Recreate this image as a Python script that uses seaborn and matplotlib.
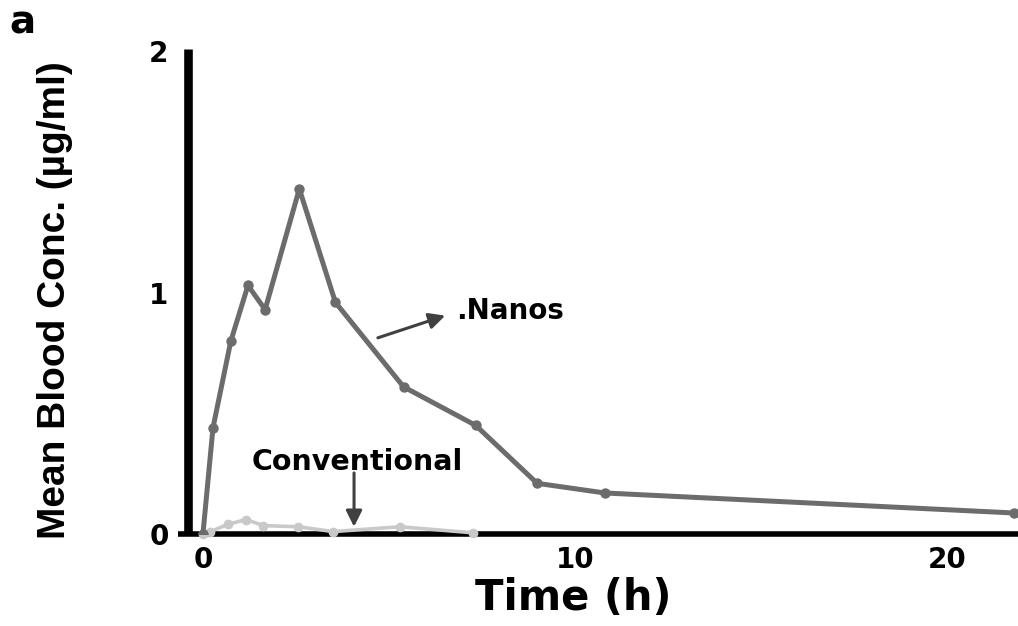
import matplotlib
matplotlib.use("Agg")
import matplotlib.pyplot as plt
import seaborn as sns
import pandas as pd

# ---- data ----
time_nanos = [0, 0.27, 0.75, 1.21, 1.67, 2.59, 3.56, 5.39, 7.33, 8.98, 10.8, 21.8]
conc_nanos = [0, 0.44, 0.80, 1.03, 0.93, 1.43, 0.96, 0.61, 0.45, 0.21, 0.17, 0.087]
time_conv = [0, 0.20, 0.67, 1.16, 1.62, 2.56, 3.50, 5.30, 7.25]
conc_conv = [0, 0.01, 0.04, 0.06, 0.035, 0.03, 0.01, 0.03, 0.005]
x_ticks = [0, 10, 20]
y_ticks = [0, 1, 2]
x_label = "Time (h)"
y_label = "Mean Blood Conc. (µg/ml)"

sns.set_theme(style="white")
plt.rcParams['font.family'] = ['DejaVu Sans']
plt.rcParams['text.color'] = 'black'
plt.rcParams['xtick.color'] = 'black'
plt.rcParams['ytick.color'] = 'black'

fig = plt.figure(figsize=(10.18, 6.26), dpi=100)
W, H = 1018, 626
ax = fig.add_axes([178 / W, 1 - 534 / H, (1018 - 178) / W, (534 - 49) / H])

df_n = pd.DataFrame({"t": time_nanos, "c": conc_nanos})
df_c = pd.DataFrame({"t": time_conv, "c": conc_conv})

sns.lineplot(data=df_c, x="t", y="c", ax=ax, color="#c9c9c9", lw=2.6,
             marker="o", markersize=7, markeredgewidth=0, estimator=None,
             sort=False, clip_on=False, zorder=3)
sns.lineplot(data=df_n, x="t", y="c", ax=ax, color="#6c6c6c", lw=3.6,
             marker="o", markersize=7.5, markeredgewidth=0, estimator=None,
             sort=False, clip_on=True, zorder=4)

ax.set_xlim(-0.67, 21.9)
ax.set_ylim(0, 2.01)
ax.spines['left'].set_position(('data', -0.4))
for s in ['top', 'right']:
    ax.spines[s].set_visible(False)
ax.spines['left'].set_linewidth(6.2)
ax.spines['left'].set_color('black')
ax.spines['left'].set_capstyle('butt')
ax.spines['bottom'].set_linewidth(4.0)
ax.spines['bottom'].set_color('black')
ax.spines['bottom'].set_capstyle('butt')
ax.spines['left'].set_zorder(5)
ax.spines['bottom'].set_zorder(2)

ax.set_xticks(x_ticks)
ax.set_yticks(y_ticks)
ax.set_xticklabels([str(v) for v in x_ticks], fontsize=20, fontweight='bold', color='black')
ax.set_yticklabels([str(v) for v in y_ticks], fontsize=20, fontweight='bold', color='black')
ax.tick_params(axis='x', length=0, pad=9)
ax.tick_params(axis='y', length=0, pad=14)
ax.set_xlabel("")
ax.set_ylabel("")

# axis titles
fig.text(573 / W, 1 - 598 / H, x_label, ha='center', va='center',
         fontsize=30, fontweight='bold', color='black')
fig.text(55 / W, 1 - 300 / H, y_label, ha='center', va='center', rotation=90,
         fontsize=28, fontweight='bold', color='black',
         family=['Liberation Sans', 'DejaVu Sans'])
fig.text(9 / W, 1 - 34 / H, "a", ha='left', va='baseline',
         fontsize=28, fontweight='bold', color='black')

# annotations
arrow_style = dict(arrowstyle="-|>,head_length=0.8,head_width=0.4",
                   color="#404040", lw=2.2, shrinkA=0, shrinkB=0)
ax.annotate("", xy=(6.51, 0.905), xytext=(4.70, 0.813), arrowprops=arrow_style)
ax.text(8.25, 0.925, ".Nanos", ha='center', va='center', fontsize=20,
        fontweight='bold', color='black')
ax.annotate("", xy=(4.06, 0.03), xytext=(4.06, 0.253), arrowprops=arrow_style)
ax.text(4.14, 0.30, "Conventional", ha='center', va='center', fontsize=20.5,
        fontweight='bold', color='black')

fig.savefig("out.png", dpi=100)
